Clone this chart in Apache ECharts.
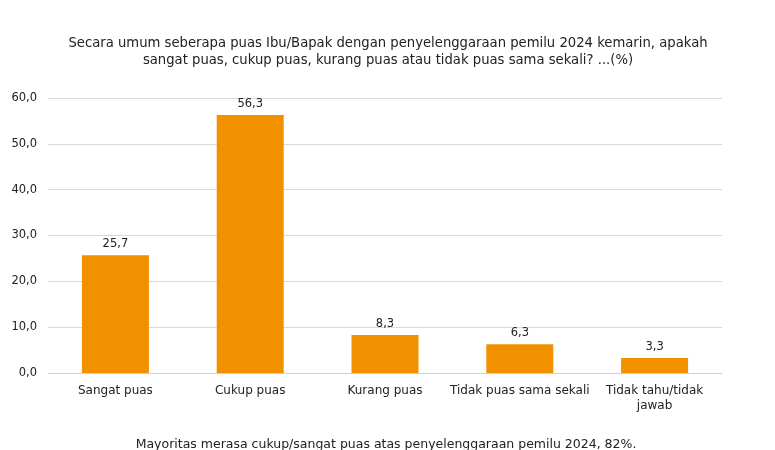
<!DOCTYPE html>
<html>
<head>
<meta charset="utf-8">
<script src="https://cdn.jsdelivr.net/npm/echarts@6/dist/echarts.min.js"></script>
<style>
  html, body { margin: 0; padding: 0; background: #fff; }
  #chart { width: 775px; height: 450px; }
</style>
</head>
<body>
<div id="chart"></div>
<script>
// data
var categories = ['Sangat puas', 'Cukup puas', 'Kurang puas', 'Tidak puas sama sekali', 'Tidak tahu/tidak\njawab'];
var values = [25.7, 56.3, 8.3, 6.3, 3.3];
var titleText = 'Secara umum seberapa puas Ibu/Bapak dengan penyelenggaraan pemilu 2024 kemarin, apakah\nsangat puas, cukup puas, kurang puas atau tidak puas sama sekali? ...(%)';
var noteText = 'Mayoritas merasa cukup/sangat puas atas penyelenggaraan pemilu 2024, 82%.';

var font = 'Century Gothic, DejaVu Sans, sans-serif';
function comma(v) { return v.toFixed(1).replace('.', ','); }

var myChart = echarts.init(document.getElementById('chart'));

var option = {
  animation: false,
  title: [
    {
      text: titleText,
      left: 383, top: 30, textAlign: 'center',
      textStyle: { fontFamily: font, fontSize: 13.2, fontWeight: 'normal', color: '#222', lineHeight: 17, align: 'center' }
    },
    {
      text: noteText,
      left: 381, top: 433, textAlign: 'center',
      textStyle: { fontFamily: font, fontSize: 12.5, fontWeight: 'normal', color: '#222' }
    }
  ],
  grid: { left: 48, right: 53, top: 98, bottom: 77 },
  xAxis: {
    type: 'category',
    data: categories,
    axisLine: { lineStyle: { color: '#d0d0d0' } },
    axisTick: { show: false },
    axisLabel: { fontFamily: font, fontSize: 12, color: '#222', margin: 10, interval: 0, lineHeight: 15 }
  },
  yAxis: {
    type: 'value',
    min: 0, max: 60, interval: 10,
    axisLine: { show: false },
    axisTick: { show: false },
    splitLine: { lineStyle: { color: '#d9d9d9' } },
    axisLabel: { fontFamily: font, fontSize: 11.5, color: '#222', margin: 11, formatter: function (v) { return comma(v); } }
  },
  series: [
    {
      type: 'bar',
      data: values,
      barWidth: 67,
      itemStyle: { color: '#F29100' },
      label: {
        show: true, position: 'top', distance: 5,
        fontFamily: font, fontSize: 11.5, color: '#222',
        formatter: function (p) { return comma(p.value); }
      }
    }
  ]
};

myChart.setOption(option);
</script>
</body>
</html>
